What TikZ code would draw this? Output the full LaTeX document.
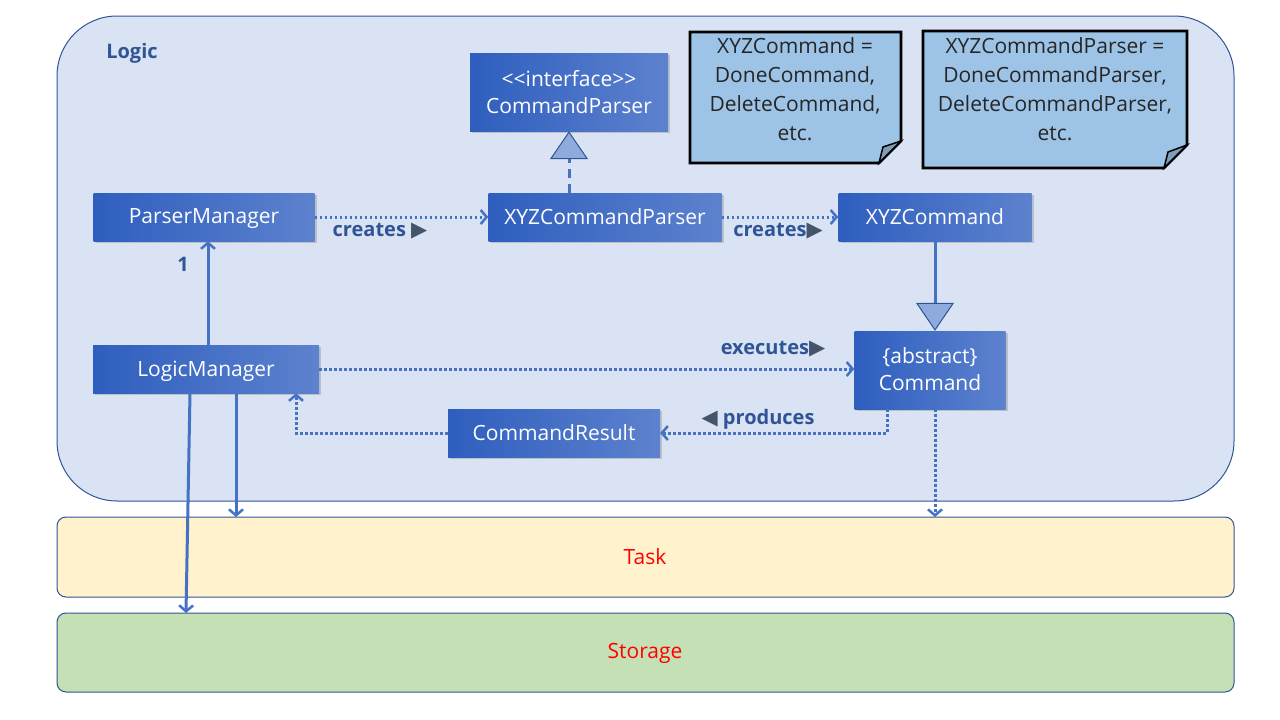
\documentclass[tikz,border=0pt]{standalone}
\usepackage{fontspec}
\setmainfont{Open Sans}
\newfontfamily\symfont{DejaVu Sans}
\usetikzlibrary{shadows,arrows.meta}

\definecolor{logicfill}{HTML}{DAE3F3}
\definecolor{frameblue}{HTML}{2F5597}
\definecolor{taskfill}{HTML}{FFF2CC}
\definecolor{storefill}{HTML}{C5E0B4}
\definecolor{arrowblue}{HTML}{4472C4}
\definecolor{clsleft}{HTML}{2E5EBE}
\definecolor{clsright}{HTML}{5D82CE}
\definecolor{tridark}{HTML}{44546A}
\definecolor{notefill}{HTML}{9DC3E6}
\definecolor{foldfill}{HTML}{7F9DB9}
\definecolor{trifill}{HTML}{8FAADC}

\newcommand{\tipright}{{\symfont\color{tridark}\fontsize{21}{24}\selectfont ▶}}
\newcommand{\tipleft}{{\symfont\color{tridark}\fontsize{21}{24}\selectfont ◀}}

\begin{document}
\begin{tikzpicture}[x=1pt,y=-1pt,
  classbox/.style={shading=axis, left color=clsleft, right color=clsright,
    text=white, font=\fontsize{21}{27}\selectfont, inner sep=0pt,
    minimum height=48pt, align=center, text depth=1pt,
    drop shadow={shadow xshift=2pt, shadow yshift=-2pt, opacity=0.35}},
  layerbox/.style={draw=frameblue, line width=1pt, rounded corners=9pt},
  notebox/.style={draw=black, line width=2.8pt, fill=notefill, line join=miter},
  notetext/.style={font=\fontsize{21}{29}\selectfont, align=center, text=black!85},
  lbl/.style={font=\bfseries\fontsize{20}{24}\selectfont, text=frameblue},
  depline/.style={draw=arrowblue, line width=3pt, dash pattern=on 2.6pt off 2.4pt,
    -{Straight Barb[length=6pt,width=14pt,line width=2.5pt]}},
  assocline/.style={draw=arrowblue, line width=3pt,
    -{Straight Barb[length=6pt,width=14pt,line width=2.5pt]}},
  genline/.style={draw=arrowblue, line width=3pt,
    -{Triangle[length=28pt,width=38pt,fill=trifill,color=frameblue,line width=1pt]}}]

  \useasboundingbox (0,0) rectangle (1280,720);

  % Layers
  \draw[draw=frameblue, line width=1pt, fill=logicfill, rounded corners=60pt]
    (57,16) rectangle (1234,501);
  \node[font=\bfseries\fontsize{20}{24}\selectfont, text=frameblue] (logic) at (132,53) {Logic};

  \draw[layerbox, fill=taskfill] (57,517) rectangle (1234,597);
  \node[text=red, font=\fontsize{21}{26}\selectfont] (tasktxt) at (645,557) {Task};
  \coordinate (task) at (645,517);

  \draw[layerbox, fill=storefill] (57,613) rectangle (1234,692);
  \node[text=red, font=\fontsize{21}{26}\selectfont] (storetxt) at (645,653) {Storage};
  \coordinate (storage) at (645,613);

  % Notes with folded corner
  \draw[notebox] (690,32) -- (901,32) -- (901,141) -- (879,163) -- (690,163) -- cycle;
  \draw[draw=black, line width=1.5pt, fill=foldfill] (879,163) -- (883,147) -- (901,141) -- cycle;
  \node[notetext] (note1) at (795,89) {XYZCommand =\\DoneCommand,\\DeleteCommand,\\etc.};

  \draw[notebox] (923,31) -- (1187,31) -- (1187,145) -- (1164,168) -- (923,168) -- cycle;
  \draw[draw=black, line width=1.5pt, fill=foldfill] (1164,168) -- (1168,152) -- (1187,145) -- cycle;
  \node[notetext] (note2) at (1055,89) {XYZCommandParser =\\DoneCommandParser,\\DeleteCommandParser,\\etc.};

  % Classes
  \node[classbox, minimum width=198pt, minimum height=78pt] (cp) at (569,92)
    {<{}<interface>{}>\\CommandParser};
  \node[classbox, minimum width=221pt] (pm) at (204,217) {ParserManager};
  \node[classbox, minimum width=233pt] (xp) at (605,217) {XYZCommandParser};
  \node[classbox, minimum width=193pt] (xc) at (935,217) {XYZCommand};
  \node[classbox, minimum width=226pt] (lm) at (206,369) {LogicManager};
  \node[classbox, minimum width=151pt, minimum height=78pt] (cmd) at (930,370)
    {\{abstract\}\\Command};
  \node[classbox, minimum width=212pt] (cr) at (554,433) {CommandResult};

  % Connectors
  \draw[depline] (pm.east) -- (xp.west);
  \node[lbl] (lcreate1) at (380,231) {creates \tipright};
  \draw[depline] (xp.east) -- (xc.west);
  \node[lbl] (lcreate2) at (778,231) {creates\tipright};

  \draw[genline, dash pattern=on 9pt off 6pt] (cp.south |- xp.north) -- (cp.south);
  \draw[genline] (xc.south) -- (xc.south |- cmd.north);

  \coordinate (lmup) at ([xshift=2pt]lm.north);
  \draw[assocline] (lmup) -- (lmup |- pm.south);
  \node[lbl] (mult) at (183,264) {1};

  \draw[depline] (lm.east) -- (cmd.west |- lm.east);
  \node[lbl] (lexec) at (773,349) {executes\tipright};

  \coordinate (cmdout) at ([xshift=-43pt]cmd.south);
  \draw[depline] (cmdout) |- (cr.east);
  \node[lbl] (lprod) at (758,419) {\tipleft\ produces};

  \coordinate (lmin) at ([xshift=90pt]lm.south);
  \draw[depline] (cr.west) -| (lmin);

  \coordinate (lmtask) at ([xshift=30pt]lm.south);
  \draw[assocline] (lmtask) -- (lmtask |- task);
  \coordinate (lmstore) at ([xshift=-16pt]lm.south);
  \draw[assocline] (lmstore) -- ([xshift=-459pt]storage);

  \coordinate (cmdtask) at ([xshift=5pt]cmd.south);
  \draw[depline] (cmdtask) -- (cmdtask |- task);
\end{tikzpicture}
\end{document}
